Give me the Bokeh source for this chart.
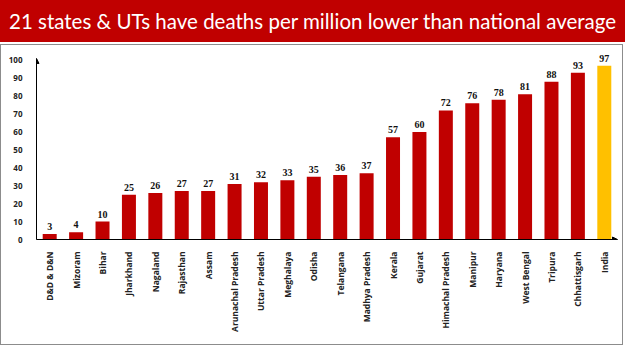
import math
from bokeh.plotting import figure
from bokeh.models import (Div, FactorRange, Range1d, ColumnDataSource, LabelSet, FixedTicker,
                          Arrow, NormalHead)
from bokeh.layouts import column
from bokeh.embed import file_html
from bokeh.resources import INLINE

title_text = "21 states & UTs have deaths per million lower than national average"
states = ["D&D & D&N", "Mizoram", "Bihar", "Jharkhand", "Nagaland", "Rajasthan", "Assam",
          "Arunachal Pradesh", "Uttar Pradesh", "Meghalaya", "Odisha", "Telangana",
          "Madhya Pradesh", "Kerala", "Gujarat", "Himachal Pradesh", "Manipur", "Haryana",
          "West Bengal", "Tripura", "Chhattisgarh", "India"]
deaths_per_million = [3, 4, 10, 25, 26, 27, 27, 31, 32, 33, 35, 36, 37, 57, 60, 72, 76, 78,
                      81, 88, 93, 97]
y_ticks = list(range(0, 101, 10))

RED = "#C00000"
GOLD = "#FFC000"
colors = [GOLD if s == "India" else RED for s in states]

src = ColumnDataSource(dict(x=states, y=deaths_per_million, c=colors,
                            lab=[str(v) for v in deaths_per_million]))

banner = Div(text=title_text, width=625, height=42, margin=0,
             styles={"background-color": RED, "color": "white", "font-family": "Lato",
                     "font-size": "20.5px", "line-height": "42px", "padding-left": "9px",
                     "box-sizing": "border-box", "white-space": "nowrap", "overflow": "hidden"})

Y_TOP = 106
AXIS_TOP = 101
p = figure(x_range=FactorRange(*states, range_padding=0), y_range=Range1d(0, Y_TOP),
           width=623, height=301, output_backend="svg", toolbar_location=None,
           min_border_left=35, min_border_right=7, min_border_top=4, min_border_bottom=107,
           margin=0, styles={"border": "1px solid #8c8c8c"})

p.vbar(x="x", top="y", width=0.53, fill_color="c", line_color=None, source=src)
p.add_layout(LabelSet(x="x", y="y", text="lab", source=src, text_align="center",
                      text_baseline="bottom", y_offset=4, text_font_size="10px",
                      text_font_style="bold", text_color="#111111",
                      text_font="Open Sans"))

# axis arrowheads
p.add_layout(Arrow(x_start=0, y_start=0, x_end=0, y_end=AXIS_TOP, line_color="#000000",
                   line_width=1, end=NormalHead(size=5, fill_color="#000000",
                                                line_color="#000000")))
p.add_layout(Arrow(x_start=0, y_start=0, x_end=len(states), y_end=0, line_color="#000000",
                   line_width=1, end=NormalHead(size=5, fill_color="#000000",
                                                line_color="#000000")))

p.outline_line_color = None
p.xgrid.grid_line_color = None
p.ygrid.grid_line_color = None

p.yaxis.ticker = FixedTicker(ticks=y_ticks)
p.yaxis.bounds = (0, AXIS_TOP)
p.yaxis.major_tick_line_color = None
p.yaxis.minor_tick_line_color = None
p.yaxis.axis_line_color = "#000000"
p.yaxis.major_label_text_font_size = "8px"
p.yaxis.major_label_text_font_style = "bold"
p.yaxis.major_label_text_font = "Open Sans"
p.yaxis.major_label_text_color = "#222222"
p.yaxis.major_label_standoff = 8

p.xaxis.major_tick_line_color = None
p.xaxis.axis_line_color = "#000000"
p.xaxis.major_label_orientation = math.pi / 2
p.xaxis.major_label_text_font_size = "8.5px"
p.xaxis.major_label_text_font_style = "bold"
p.xaxis.major_label_text_font = "Open Sans"
p.xaxis.major_label_text_color = "#222222"
p.xaxis.major_label_standoff = 6

layout = column(banner, p, spacing=2, margin=0)
open("out.html", "w").write(file_html(layout, INLINE))
